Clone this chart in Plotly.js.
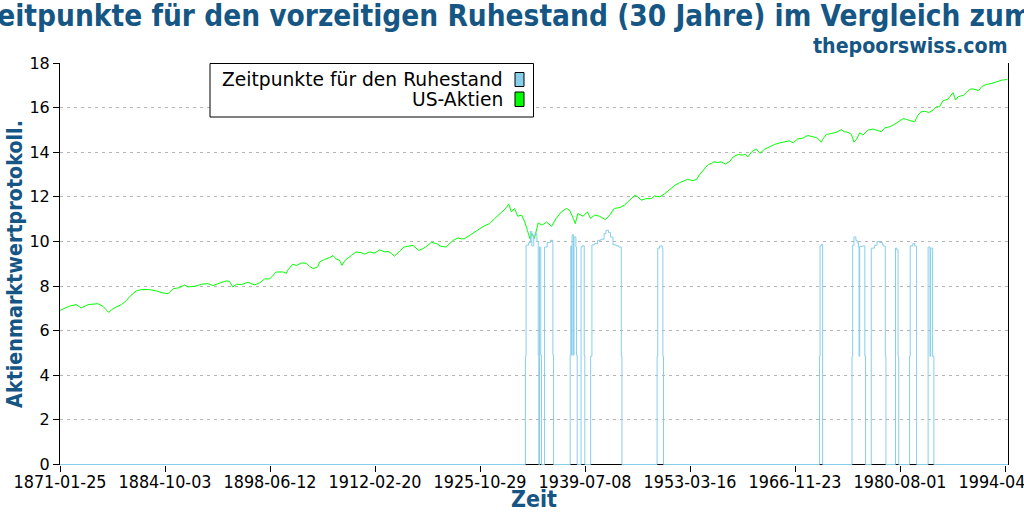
<!DOCTYPE html>
<html>
<head>
<meta charset="utf-8">
<script src="https://cdn.plot.ly/plotly-3.0.1.min.js"></script>
<style>html,body{margin:0;padding:0;background:#fff;}#chart{width:1024px;height:512px;}</style>
</head>
<body>
<div id="chart"></div>
<script>
const titleText = 'Zeitpunkte für den vorzeitigen Ruhestand (30 Jahre) im Vergleich zum Aktienmarkt';
const subtitleText = 'thepoorswiss.com';
const xAxisTitle = 'Zeit';
const yAxisTitle = 'Aktienmarktwertprotokoll.';
const seriesNames = ['Zeitpunkte für den Ruhestand', 'US-Aktien'];
const xTickLabels = ['1871-01-25','1884-10-03','1898-06-12','1912-02-20','1925-10-29','1939-07-08','1953-03-16','1966-11-23','1980-08-01','1994-04-10'];
const yTickValues = [0,2,4,6,8,10,12,14,16,18];

const stockDates = ['1871-01-25','1871-12','1872-05','1873-03','1873-11','1874-10','1876-01','1876-09','1877-06','1878-01','1879-02','1879-10','1880-05','1881-01','1881-09','1882-10','1883-09','1884-07','1885-03','1885-11','1886-09','1887-05','1887-10','1888-09','1889-07','1890-05','1891-01','1891-12','1892-10','1893-03','1893-08','1894-02','1894-10','1895-08','1896-06','1897-02','1897-10','1898-06','1898-11','1899-04','1900-03','1900-08','1900-10','1901-06','1901-12','1902-07','1903-03','1903-08','1904-02','1904-09','1904-12','1905-08','1906-04','1906-09','1907-02','1907-07','1907-11','1908-04','1909-02','1909-09','1910-05','1910-10','1911-06','1912-02','1912-10','1913-06','1913-11','1914-04','1914-09','1915-05','1915-12','1916-09','1917-02','1917-11','1918-06','1919-01','1919-07','1920-03','1920-10','1921-06','1921-11','1922-05','1923-01','1923-06','1923-11','1924-07','1925-03','1925-10','1926-06','1927-02','1927-10','1928-06','1929-02','1929-08','1929-12','1930-05','1930-10','1931-04','1931-09','1932-01','1932-05','1932-08','1932-12','1933-06','1933-12','1934-07','1935-03','1935-10','1936-06','1937-02','1937-07','1938-01','1938-04','1938-08','1939-04','1939-11','1940-04','1940-10','1941-06','1942-03','1942-10','1943-05','1944-02','1944-09','1945-05','1946-01','1946-06','1946-11','1947-07','1948-03','1948-08','1949-04','1949-11','1950-08','1951-04','1951-11','1952-07','1952-12','1953-08','1954-02','1954-07','1955-02','1955-08','1956-01','1956-05','1956-11','1957-04','1957-11','1958-06','1958-11','1959-07','1960-01','1960-06','1960-10','1961-04','1961-11','1962-05','1962-12','1963-08','1964-04','1964-12','1965-08','1966-03','1966-09','1967-04','1967-12','1968-08','1969-04','1969-09','1970-01','1970-05','1970-07','1971-01','1971-09','1972-04','1972-12','1973-05','1973-11','1974-04','1974-08','1974-12','1975-05','1975-10','1976-06','1977-02','1977-07','1978-03','1978-08','1979-04','1979-12','1980-05','1981-01','1981-06','1982-02','1982-07','1982-12','1983-05','1983-11','1984-05','1984-12','1985-05','1985-10','1986-03','1986-11','1987-07','1987-11','1988-03','1988-11','1989-04','1989-09','1990-02','1990-08','1990-11','1991-04','1991-11','1992-07','1993-03','1993-11','1994-07','1994-08'];
const stockValues = [6.91,7.02,7.10,7.17,7.02,7.17,7.21,7.09,6.82,6.99,7.17,7.36,7.59,7.78,7.84,7.84,7.78,7.69,7.66,7.88,7.93,8.05,7.96,7.99,8.08,8.11,8.02,8.14,8.23,8.21,7.96,8.08,8.07,8.17,8.05,8.14,8.32,8.32,8.48,8.63,8.63,8.57,8.71,8.98,8.92,9.03,9.03,8.89,8.78,8.86,9.08,9.20,9.28,9.37,9.21,9.16,8.93,9.16,9.38,9.53,9.50,9.43,9.53,9.48,9.62,9.53,9.55,9.48,9.34,9.56,9.75,9.80,9.82,9.60,9.68,9.82,9.96,9.90,9.78,9.75,9.87,10.05,10.16,10.11,10.13,10.29,10.43,10.56,10.70,10.80,11.03,11.22,11.45,11.67,11.32,11.48,11.13,11.18,10.87,10.50,10.13,10.35,10.13,10.83,10.73,10.87,10.68,11.03,11.32,11.48,11.40,11.03,10.80,11.25,11.13,11.32,11.03,11.18,11.13,10.98,11.18,11.48,11.52,11.63,11.85,12.07,12.00,11.85,11.92,11.92,12.04,12.00,12.12,12.34,12.52,12.63,12.72,12.79,12.72,12.79,13.02,13.23,13.45,13.50,13.57,13.54,13.57,13.47,13.60,13.79,13.90,13.87,13.90,13.79,14.02,14.15,13.95,14.13,14.24,14.35,14.42,14.48,14.51,14.42,14.60,14.63,14.75,14.69,14.66,14.57,14.45,14.57,14.80,14.84,14.89,15.01,14.92,14.89,14.80,14.45,14.58,14.87,14.77,14.99,15.04,14.99,14.92,15.09,15.14,15.26,15.36,15.51,15.47,15.39,15.36,15.66,15.81,15.84,15.78,15.89,16.04,16.04,16.30,16.38,16.67,16.34,16.49,16.55,16.67,16.82,16.84,16.79,16.76,16.94,17.04,17.08,17.17,17.23,17.26,17.28];

const retireDates = ['1871-01-25','1931-10','1931-11','1932-03','1932-06','1932-08','1932-11','1933-02','1933-04','1933-06','1933-07','1933-08','1933-10','1933-11','1934-04','1934-08','1935-01','1935-05','1935-06','1937-08','1937-09','1937-10','1937-11','1938-01','1938-02','1938-05','1938-06','1938-07','1939-01','1939-03','1939-06','1939-07','1940-04','1940-06','1940-10','1941-03','1941-08','1942-01','1942-04','1942-08','1942-11','1943-03','1943-08','1943-12','1944-04','1944-05','1948-12','1949-01','1949-04','1949-08','1949-09','1949-10','1970-02','1970-03','1970-05','1970-07','1974-05','1974-06','1974-08','1974-11','1975-01','1975-03','1975-04','1975-05','1975-09','1976-01','1976-02','1976-11','1977-04','1977-08','1977-12','1978-05','1978-07','1978-09','1978-10','1980-01','1980-03','1980-05','1980-06','1981-11','1981-12','1982-04','1982-07','1982-10','1984-04','1984-07','1984-08','1984-11','1985-01','1994-08-31'];
const retireValues = [0,4.85,9.83,9.95,10.45,9.8,10.3,10.35,10.0,4.9,0,9.75,4.9,0,9.75,9.95,10.05,4.9,0,4.9,9.8,4.9,10.3,4.9,10.2,9.75,4.9,0,9.75,9.8,4.9,0,4.85,9.85,9.9,10.05,10.1,10.35,10.5,10.4,10.2,9.85,9.8,9.75,4.85,0,4.85,9.7,9.8,9.7,4.85,0,4.85,9.8,9.87,0,4.85,9.83,10.2,10.05,9.95,9.75,4.85,9.78,9.8,4.85,0,9.7,9.83,10.0,9.95,9.83,9.78,4.85,0,9.7,9.62,4.85,0,4.85,9.8,9.9,9.8,0,9.75,4.85,9.7,4.85,0,0];

const colors = {retire:'#87ceeb', stock:'#00ff00', title:'#165684'};

// plot geometry (pixels)
const W = 1024, H = 512, ML = 60, MR = 16, MT = 63, MB = 47;
const PW = W - ML - MR, PH = H - MT - MB;
const fx = p => (p - ML) / PW;
const fy = p => (H - MB - p) / PH;
const yLow = -0.5 * 18 / (PH - 0.5);

const condensed = 'DejaVu Sans Condensed';
const normal = 'DejaVu Sans';

const traces = [
  {x: stockDates, y: stockValues, type:'scatter', mode:'lines', name: seriesNames[1],
   line:{color:colors.stock, width:1}, showlegend:false, hoverinfo:'skip'},
  {x: retireDates, y: retireValues, type:'scatter', mode:'lines', name: seriesNames[0],
   line:{color:colors.retire, width:1, shape:'hv'}, showlegend:false, hoverinfo:'skip'}
];

const layout = {
  width: W, height: H,
  margin: {l:ML, r:MR, t:MT, b:MB, pad:0},
  paper_bgcolor:'#ffffff', plot_bgcolor:'#ffffff',
  showlegend:false,
  xaxis: {
    type:'date',
    range:['1871-01-25','1994-08-31'],
    tickmode:'array', tickvals:xTickLabels, ticktext:xTickLabels,
    ticks:'outside', ticklen:6, tickwidth:1, tickcolor:'#000',
    ticklabeloverflow:'allow', ticklabelstandoff:-5,
    showline:false, showgrid:false, zeroline:false,
    tickfont:{family:condensed, size:17.8, color:'#000'},
    title:{text:xAxisTitle, font:{family:condensed, size:23, color:colors.title, weight:'bold'}, standoff:0},
    layer:'below traces'
  },
  yaxis: {
    range:[yLow, 18],
    tickmode:'array', tickvals:yTickValues,
    ticks:'outside', ticklen:6, tickwidth:1, tickcolor:'#000',
    showline:true, linecolor:'#000', linewidth:1, mirror:true,
    showgrid:true, gridcolor:'#b4b4b4', gridwidth:1, griddash:'3px,4px',
    zeroline:false,
    tickfont:{family:normal, size:16, color:'#000'},
    title:{text:yAxisTitle, font:{family:condensed, size:21.3, color:colors.title, weight:'bold'}, standoff:0},
    layer:'below traces'
  },
  shapes: [
    {type:'line', xref:'paper', yref:'y', x0:0, x1:1, y0:0, y1:0, line:{color:'#000', width:1}, layer:'below'},
    {type:'rect', xref:'paper', yref:'paper', x0:fx(210), x1:fx(533.5), y0:fy(117), y1:fy(63.5), line:{color:'#000', width:1}, fillcolor:'#ffffff', layer:'above'},
    {type:'rect', xref:'paper', yref:'paper', x0:fx(515), x1:fx(524), y0:fy(86.5), y1:fy(72.5), line:{color:'#000', width:1}, fillcolor:colors.retire, layer:'above'},
    {type:'rect', xref:'paper', yref:'paper', x0:fx(515), x1:fx(524), y0:fy(106.5), y1:fy(92), line:{color:'#000', width:1}, fillcolor:colors.stock, layer:'above'}
  ],
  annotations: [
    {text:titleText, xref:'paper', yref:'paper', x:fx(-24), y:fy(16), xanchor:'left', yanchor:'middle', showarrow:false,
     font:{family:condensed, size:29.5, color:colors.title, weight:'bold'}},
    {text:subtitleText, xref:'paper', yref:'paper', x:fx(1010), y:fy(45), xanchor:'right', yanchor:'middle', showarrow:false,
     font:{family:condensed, size:21.2, color:colors.title, weight:'bold'}},
    {text:seriesNames[0], xref:'paper', yref:'paper', x:fx(505), y:fy(80), xanchor:'right', yanchor:'middle', showarrow:false,
     font:{family:normal, size:18.7, color:'#000'}},
    {text:seriesNames[1], xref:'paper', yref:'paper', x:fx(505), y:fy(100), xanchor:'right', yanchor:'middle', showarrow:false,
     font:{family:normal, size:18.7, color:'#000'}}
  ]
};

Plotly.newPlot('chart', traces, layout, {displayModeBar:false, staticPlot:true});
</script>
</body>
</html>
